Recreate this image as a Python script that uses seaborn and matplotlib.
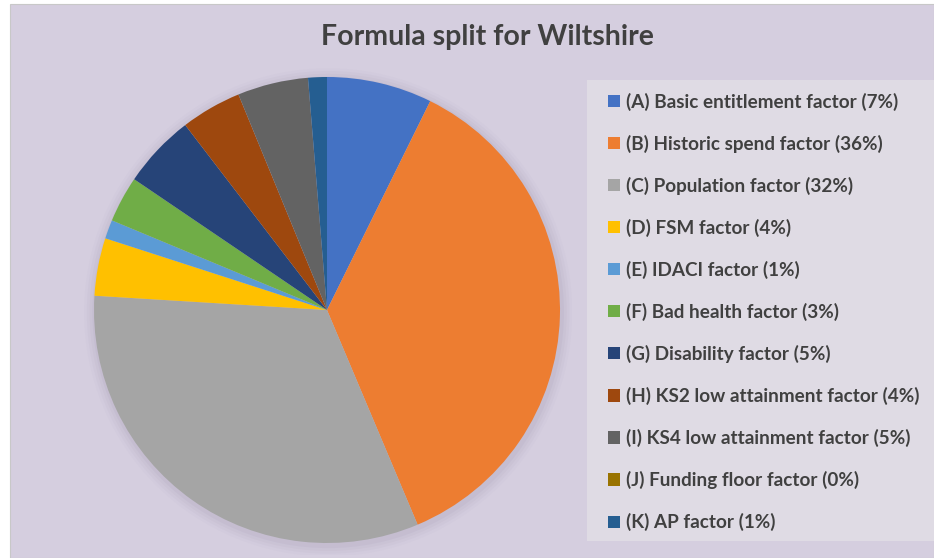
import matplotlib
matplotlib.use("Agg")
import matplotlib.pyplot as plt
import matplotlib.patches as mpatches
import seaborn as sns

labels = ["(A) Basic entitlement factor (7%)", "(B) Historic spend factor (36%)",
          "(C) Population factor (32%)", "(D) FSM factor (4%)", "(E) IDACI factor (1%)",
          "(F) Bad health factor (3%)", "(G) Disability factor (5%)",
          "(H) KS2 low attainment factor (4%)", "(I) KS4 low attainment factor (5%)",
          "(J) Funding floor factor (0%)", "(K) AP factor (1%)"]
values = [7.3, 36.3, 32.3, 4.0, 1.3, 3.2, 5.1, 4.2, 4.9, 0.0, 1.3]
colors = ["#4472C4", "#ED7D31", "#A5A5A5", "#FFC000", "#5B9BD5", "#70AD47",
          "#264478", "#9E480E", "#636363", "#997300", "#255E91"]

sns.set_theme(style="white")
plt.rcParams['font.family'] = ['Lato', 'DejaVu Sans']
palette = sns.color_palette(colors)

W, H = 934, 558
fig = plt.figure(figsize=(W/100, H/100), dpi=100, facecolor="white")

def fx(x): return x / W
def fy(y): return 1 - y / H

# chart background
fig.patches.append(mpatches.Rectangle((fx(10), 0), 1 - fx(10), fy(4), transform=fig.transFigure,
                                      facecolor="#D5CEDF", edgecolor="#C8C8C8", linewidth=0.8, zorder=-3))
# legend box
fig.patches.append(mpatches.Rectangle((fx(587), fy(541)), fx(934) - fx(587), fy(80) - fy(541),
                                      transform=fig.transFigure, facecolor="#DFDBE4",
                                      edgecolor="none", zorder=-2))

cx, cy, r = 327, 310, 233
scale = 1.05
ax = fig.add_axes([fx(cx - r * scale), fy(cy + r * scale), fx(2 * r * scale), (2 * r * scale) / H])
ax.set_facecolor("none")
ax.patch.set_visible(False)
# soft shadow
for i, a in enumerate([0.05, 0.04, 0.03, 0.02]):
    ax.add_patch(mpatches.Circle((0.005, -0.01), 1.0 + 0.012 * (i + 1), facecolor="#6a5f7a",
                                 alpha=a, edgecolor="none", zorder=0))
wedges, _ = ax.pie(values, colors=palette, startangle=90, counterclock=False,
                   radius=1, wedgeprops=dict(linewidth=0))
for w in wedges:
    w.set_zorder(2)
ax.set_xlim(-scale, scale)
ax.set_ylim(-scale, scale)
ax.set_aspect("equal")
ax.axis("off")

fig.text(fx(487), fy(37), "Formula split for Wiltshire", ha="center", va="center",
         fontsize=20.5, fontweight="bold", color="#404040")

handles = [mpatches.Patch(facecolor=c, edgecolor="none") for c in palette]
leg = fig.legend(handles, labels, loc="upper left", bbox_to_anchor=(fx(599), fy(83)),
                 frameon=False, fontsize=13.6, labelspacing=1.27, handlelength=0.62,
                 handleheight=0.62, handletextpad=0.3, borderpad=0)
for t in leg.get_texts():
    t.set_color("#404040")
    t.set_fontweight("bold")

fig.savefig("out.png", dpi=100, facecolor="white")
